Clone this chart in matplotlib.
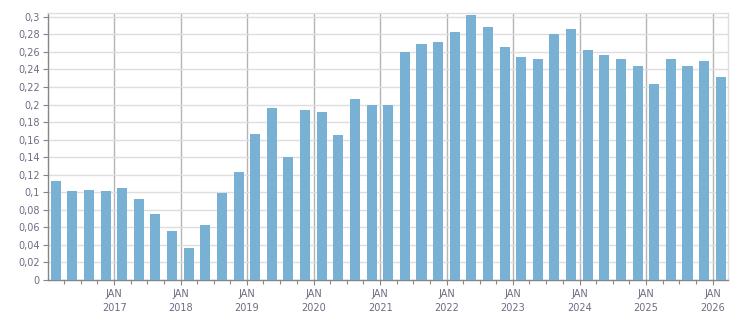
import matplotlib
matplotlib.use("Agg")
import matplotlib.pyplot as plt
import matplotlib.dates as mdates
from matplotlib.ticker import FuncFormatter, FixedLocator
import pandas as pd

# Quarterly periods (first to last)
first_quarter = "2016Q1"
last_quarter = "2026Q1"
values = [
    0.113, 0.1015, 0.1026, 0.1015, 0.1048, 0.0922, 0.0748, 0.0559,
    0.0369, 0.0626, 0.0992, 0.1226, 0.1659, 0.1959, 0.1404, 0.1937,
    0.1915, 0.1648, 0.2059, 0.1993, 0.1993, 0.2604, 0.2686, 0.2710,
    0.2826, 0.3026, 0.2881, 0.2651, 0.2537, 0.2515, 0.2804, 0.2859,
    0.2616, 0.2559, 0.2515, 0.2437, 0.2237, 0.2515, 0.2437, 0.2493,
    0.2315,
]
y_ticks = [0, 0.02, 0.04, 0.06, 0.08, 0.1, 0.12, 0.14, 0.16, 0.18,
           0.2, 0.22, 0.24, 0.26, 0.28, 0.3]
label_years = [2017, 2018, 2019, 2020, 2021, 2022, 2023, 2024, 2025, 2026]
month_label = "JAN"

periods = pd.period_range(first_quarter, last_quarter, freq="Q")
starts = periods.start_time
ends = periods.end_time
centers = starts + (ends - starts) / 2
widths_days = [0.6 * (e - s).total_seconds() / 86400 for s, e in zip(starts, ends)]

bar_color = "#78b1d3"
text_color = "#6c6c84"

fig = plt.figure(figsize=(7.51, 3.13), dpi=100)
ax = fig.add_axes([47.5 / 751, 1 - 280 / 313, (728.3 - 47.5) / 751, (280 - 13.3) / 313])

ax.bar(mdates.date2num(centers.to_pydatetime()), values, width=widths_days,
       color=bar_color, zorder=3)

ax.set_ylim(0, 0.304)
ax.set_xlim(mdates.date2num(pd.Timestamp("2016-01-01")),
            mdates.date2num(pd.Timestamp("2026-03-28")))

ax.set_yticks(y_ticks)
def yfmt(v, pos):
    s = f"{v:.2f}".rstrip("0").rstrip(".")
    return s.replace(".", ",")
ax.yaxis.set_major_formatter(FuncFormatter(yfmt))

major_pos = [mdates.date2num(pd.Timestamp(f"{y}-01-01")) for y in label_years]
ax.xaxis.set_major_locator(FixedLocator(major_pos))
ax.xaxis.set_minor_locator(mdates.MonthLocator(bymonth=[4, 7, 10]))
ax.xaxis.set_major_formatter(FuncFormatter(
    lambda v, pos: f"{month_label}\n{mdates.num2date(v).year}"))

ax.set_axisbelow(True)
ax.yaxis.grid(True, color="#dedede", linewidth=1.0, zorder=0)
ax.xaxis.grid(True, which="major", color="#b4b4b4", linewidth=1.0, zorder=0)

for side in ["left", "bottom"]:
    ax.spines[side].set_color("#858585")
    ax.spines[side].set_linewidth(1.0)
for side in ["top", "right"]:
    ax.spines[side].set_color("#dedede")
    ax.spines[side].set_linewidth(1.0)

ax.tick_params(axis="both", which="major", labelsize=7, colors="#858585",
               labelcolor=text_color, length=3.5, width=0.8, pad=2)
ax.tick_params(axis="x", which="minor", colors="#858585", length=3, width=0.8)
ax.tick_params(axis="x", which="major", pad=3)
for lbl in ax.get_xticklabels():
    lbl.set_linespacing(1.5)

fig.savefig("out.png", dpi=100)
